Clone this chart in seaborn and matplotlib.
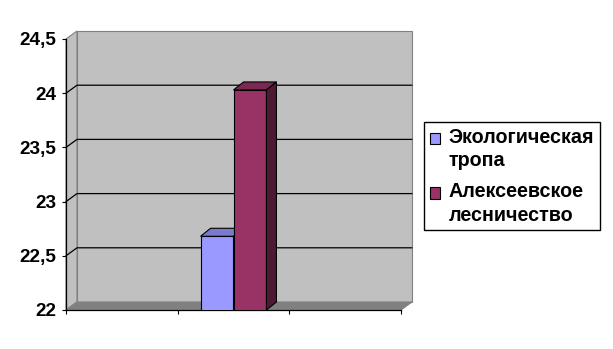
import matplotlib
matplotlib.use("Agg")
import matplotlib.pyplot as plt
from matplotlib.patches import Polygon, Rectangle
from matplotlib.lines import Line2D
from matplotlib.legend_handler import HandlerPatch
import seaborn as sns
import pandas as pd

# ---- data ----
categories = ["A", "B", "C"]
bar_category = ["B", "B"]
series = ["Экологическая\nтропа", "Алексеевское\nлесничество"]
values = [22.68, 24.03]
y_ticks = [22, 22.5, 23, 23.5, 24, 24.5]
y_tick_labels = ["22", "22,5", "23", "23,5", "24", "24,5"]
colors = ["#9999FF", "#993366"]
top_colors = ["#7A7ACC", "#7A2952"]
side_colors = ["#5C5C99", "#4D1A33"]

W, H = 613, 349
sns.set_theme(style="white")
plt.rcParams['font.family'] = ['Liberation Sans', 'DejaVu Sans']

fig = plt.figure(figsize=(W / 100, H / 100), dpi=100)
fig.patch.set_facecolor("white")
L, R, T, B = 66, 401, 39, 310
ax = fig.add_axes([L / W, 1 - B / H, (R - L) / W, (B - T) / H])
ax.patch.set_visible(False)

df = pd.DataFrame({"cat": bar_category, "series": series, "value": values})
sns.barplot(data=df, x="cat", y="value", hue="series", order=categories,
            hue_order=series, palette=colors, width=0.59, saturation=1,
            edgecolor="black", linewidth=0.8, legend=False, ax=ax)
ax.set_xlim(-0.5, 2.5)
ax.set_ylim(y_ticks[0], y_ticks[-1])
ymin, ymax = y_ticks[0], y_ticks[-1]


def shift(x, y, dx, dy):
    p = ax.transData.transform((x, y))
    q = ax.transData.inverted().transform((p[0] + dx, p[1] + dy))
    return (q[0], q[1])


WDX, WDY = 11, 8
BDX, BDY = 10, 8
x0, x1 = -0.5, 2.5
wall_kw = dict(closed=True, clip_on=False, linewidth=0.8)
# back wall
ax.add_patch(Polygon([shift(x0, ymin, WDX, WDY), shift(x1, ymin, WDX, WDY),
                      shift(x1, ymax, WDX, WDY), shift(x0, ymax, WDX, WDY)],
                     facecolor="#C0C0C0", edgecolor="#808080", zorder=0.1, **wall_kw))
# left wall
ax.add_patch(Polygon([(x0, ymin), (x0, ymax), shift(x0, ymax, WDX, WDY),
                      shift(x0, ymin, WDX, WDY)],
                     facecolor="#C0C0C0", edgecolor="#808080", zorder=0.2, **wall_kw))
# floor
ax.add_patch(Polygon([(x0, ymin), (x1, ymin), shift(x1, ymin, WDX, WDY),
                      shift(x0, ymin, WDX, WDY)],
                     facecolor="#808080", edgecolor="#808080", zorder=0.3, **wall_kw))
# gridlines
for yv in y_ticks[1:-1]:
    pts = [(x0, yv), shift(x0, yv, WDX, WDY), shift(x1, yv, WDX, WDY)]
    ax.add_line(Line2D([p[0] for p in pts], [p[1] for p in pts], color="black",
                       linewidth=0.9, clip_on=False, zorder=0.5))

# 3D bar faces
for i, cont in enumerate(ax.containers):
    for bar in cont:
        bx0 = bar.get_x()
        bx1 = bx0 + bar.get_width()
        top = bar.get_y() + bar.get_height()
        bot = max(bar.get_y(), ymin)
        base_z = 3 + 2 * i
        bar.set_zorder(base_z)
        bar.set_clip_on(True)
        ax.add_patch(Polygon([(bx0, top), (bx1, top), shift(bx1, top, BDX, BDY),
                              shift(bx0, top, BDX, BDY)], closed=True,
                             facecolor=top_colors[i], edgecolor="black",
                             linewidth=0.8, zorder=base_z + 0.1, clip_on=False))
        ax.add_patch(Polygon([(bx1, bot), (bx1, top), shift(bx1, top, BDX, BDY),
                              shift(bx1, bot, BDX, BDY)], closed=True,
                             facecolor=side_colors[i], edgecolor="black",
                             linewidth=0.8, zorder=base_z + 0.1, clip_on=False))

# axes styling
for s in ["top", "right"]:
    ax.spines[s].set_visible(False)
for s in ["left", "bottom"]:
    ax.spines[s].set_visible(True)
    ax.spines[s].set_color("black")
    ax.spines[s].set_linewidth(0.9)
    ax.spines[s].set_zorder(2.5)
ax.set_xlabel("")
ax.set_ylabel("")
ax.set_yticks(y_ticks, y_tick_labels)
ax.set_xticks([])
ax.set_xticks([-0.5, 0.5, 1.5, 2.5], minor=True)
ax.tick_params(axis="y", which="major", left=True, direction="out", length=3,
               width=0.8, color="black", labelsize=13.7, pad=4, labelcolor="black")
ax.tick_params(axis="x", which="minor", bottom=True, direction="out", length=3,
               width=0.8, color="black")
for lab in ax.get_yticklabels():
    lab.set_fontweight("bold")

# legend
handles = [Rectangle((0, 0), 1, 1, facecolor=c, edgecolor="black", linewidth=0.8)
           for c in colors]
SHIFT_PT = 7.8


def top_patch(legend, orig_handle, xdescent, ydescent, width, height, fontsize):
    return Rectangle((-xdescent, -ydescent + SHIFT_PT), width, height)


leg = fig.legend(handles, series, loc="upper left",
                 bbox_to_anchor=(424 / W, 1 - 122 / H), bbox_transform=fig.transFigure,
                 borderaxespad=0, frameon=True, fancybox=False, edgecolor="black",
                 framealpha=1, prop={"size": 14.2, "weight": "bold"},
                 handlelength=0.5, handleheight=0.5, handletextpad=0.45,
                 borderpad=0.3, labelspacing=0.62,
                 handler_map={Rectangle: HandlerPatch(patch_func=top_patch)})
leg.get_frame().set_linewidth(1)
for t in leg.get_texts():
    t.set_color("black")
    t.set_linespacing(1.28)

fig.savefig("out.png", dpi=100)
